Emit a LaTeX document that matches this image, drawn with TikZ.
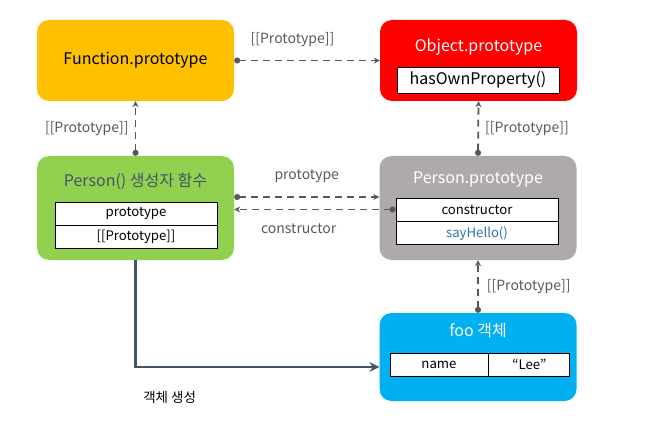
\documentclass[tikz,border=0pt]{standalone}
\usepackage{fontspec}
\setmainfont{Noto Sans CJK KR}
\usetikzlibrary{arrows.meta,positioning,calc}
\definecolor{fyellow}{HTML}{FFC000}
\definecolor{ored}{HTML}{FF0000}
\definecolor{pgreen}{HTML}{92D050}
\definecolor{pgray}{HTML}{AEAAAA}
\definecolor{fblue}{HTML}{00B0F0}
\definecolor{slate}{HTML}{44546A}
\definecolor{linkgray}{HTML}{595959}
\definecolor{methodblue}{HTML}{2E75B6}

\begin{document}
\begin{tikzpicture}[x=1pt, y=-1pt,
    objbox/.style={rectangle, rounded corners=12pt, minimum width=197pt, inner sep=0pt},
    ttl/.style={font=\fontsize{16}{18}\selectfont},
    cell/.style={draw=black, line width=0.8pt, fill=white, minimum width=162pt, minimum height=23pt, inner sep=0pt, font=\fontsize{13.2}{15}\selectfont},
    lbl/.style={font=\fontsize{14}{16}\selectfont, inner sep=1pt},
    link/.style={dash pattern=on 7pt off 5pt, line width=1.8pt, linkgray, {Circle[length=6pt]}-{Stealth[length=6pt,width=6pt]}}]
  \useasboundingbox (0,0) rectangle (647,422);
  % boxes
  \node[objbox, fill=fyellow, minimum height=81pt, ttl] (fproto) at (135.5,60.5) {Function.prototype};
  \node[objbox, fill=ored, minimum height=81pt] (oproto) at (478.5,60.5) {};
  \node[objbox, fill=pgreen, minimum height=104pt] (person) at (135.5,208) {};
  \node[objbox, fill=pgray, minimum height=104pt] (pproto) at (478,208) {};
  \node[objbox, fill=fblue, minimum height=88pt] (foo) at (478,357) {};
  % titles
  \node[ttl, white] (otitle) at (478.5,47) {Object.prototype};
  \node[ttl, slate] (ptitle) at (135.5,181) {Person() 생성자 함수};
  \node[ttl, white] (pptitle) at (478,180) {Person.prototype};
  \node[ttl, white] (ftitle) at (478,331) {foo 객체};
  % cells
  \node[cell, minimum height=26pt, ttl] (hasown) at (478,80) {hasOwnProperty()};
  \node[cell] (pcell) at (136,213.5) {prototype};
  \node[cell, below=0pt of pcell] (ppcell) {[[Prototype]]};
  \node[cell] (ctor) at (477,209.5) {constructor};
  \node[cell, below=0pt of ctor, text=methodblue] (hello) {sayHello()};
  \node[cell, minimum width=98pt] (namecell) at (439,364.5) {name};
  \node[cell, minimum width=81pt, right=0pt of namecell] (leecell) {“Lee”};
  % links
  \draw[link] (fproto.east) -- node[lbl, above=12pt, pos=0.4] (l1) {[[Prototype]]} (oproto.west);
  \draw[link] (person.north) -- node[lbl, left=5pt] (l2) {[[Prototype]]} (fproto.south);
  \draw[link] (pproto.north) -- node[lbl, right=5pt] (l3) {[[Prototype]]} (oproto.south);
  \draw[link] (foo.north) -- node[lbl, right=7pt] (l4) {[[Prototype]]} (pproto.south);
  \coordinate (pout) at ([yshift=11pt]person.east);
  \draw[link] (pout) -- node[lbl, above=12pt] (l5) {prototype} (pout -| pproto.west);
  \draw[link] (ctor.west) -- node[lbl, below=12pt, pos=0.6] (l6) {constructor} (ctor.west -| person.east);
  % object creation
  \coordinate (fooin) at ([yshift=-10pt]foo.west);
  \draw[slate, line width=2.2pt, -{Stealth[length=10pt,width=10pt,inset=3.5pt]}] (person.south) |- node[lbl, below=22pt, pos=0.57, black, font=\fontsize{13.5}{16}\selectfont] (l7) {객체 생성} (fooin);
\end{tikzpicture}
\end{document}
